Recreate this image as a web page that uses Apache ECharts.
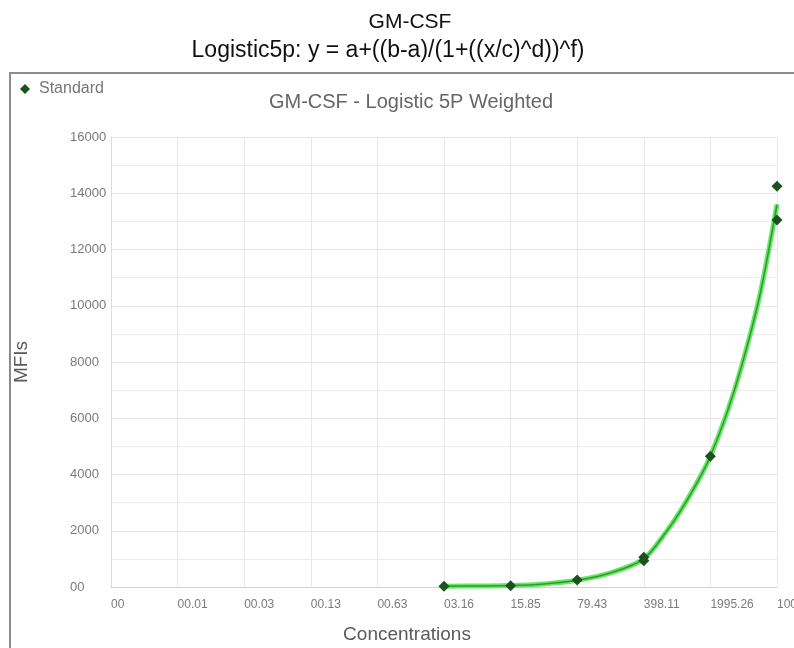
<!DOCTYPE html>
<html><head><meta charset="utf-8">
<script src="https://cdn.jsdelivr.net/npm/echarts@6/dist/echarts.min.js"></script>
<style>html,body{margin:0;padding:0;background:#fff}#c{width:794px;height:648px}</style>
</head><body><div id="c"></div>
<script>
const mainTitle = 'GM-CSF';
const subTitle = 'Logistic5p: y = a+((b-a)/(1+((x/c)^d))^f)';
const innerTitle = 'GM-CSF - Logistic 5P Weighted';
const seriesName = 'Standard';
const xAxisName = 'Concentrations';
const yAxisName = 'MFIs';

// x tick labels (log scale, steps of 10^0.7 from 10^-3 to 10^4)
const xTickLabels = ['00', '00.01', '00.03', '00.13', '00.63', '03.16', '15.85', '79.43', '398.11', '1995.26', '10000'];
const yTickLabels = ['00', '2000', '4000', '6000', '8000', '10000', '12000', '14000', '16000'];

// standard points
const stdConc = [3.16, 15.85, 79.43, 398.11, 398.11, 1995.26, 10000, 10000];
const stdMFI  = [30, 45, 250, 930, 1060, 4650, 14250, 13050];

// fitted curve
const fitConc = [3.16, 7.08, 15.85, 35.48, 79.43, 177.83, 398.11, 698, 1028, 1549, 1995.26, 2985, 4285, 6624, 10000];
const fitMFI  = [30, 36, 50, 110, 240, 500, 1000, 2000, 2850, 3900, 4650, 6200, 7900, 10400, 13600];

const LOG_MIN = -3, LOG_STEP = 0.7;
const toAxis = c => Math.log10(c) - LOG_MIN;

const FONT = '"Liberation Sans", Arial, sans-serif';
const chart = echarts.init(document.getElementById('c'), null, {renderer: 'canvas'});
chart.setOption({
  animation: false,
  backgroundColor: '#ffffff',
  graphic: [{
    type: 'rect', z: -1, silent: true,
    shape: {x: 10, y: 73, width: 820, height: 620},
    style: {fill: 'none', stroke: '#8c8c8c', lineWidth: 2}
  }],
  title: [
    {text: mainTitle, left: 405, top: 7, textAlign: 'center',
     textStyle: {fontFamily: FONT, fontSize: 21, fontWeight: 'normal', color: '#111'}},
    {text: subTitle, left: 383, top: 34, textAlign: 'center',
     textStyle: {fontFamily: FONT, fontSize: 23, fontWeight: 'normal', color: '#111'}},
    {text: innerTitle, left: 406, top: 87, textAlign: 'center',
     textStyle: {fontFamily: FONT, fontSize: 20, fontWeight: 'normal', color: '#666'}}
  ],
  legend: {
    data: [seriesName], left: 15, top: 76, icon: 'diamond',
    itemWidth: 10, itemHeight: 10,
    textStyle: {fontFamily: FONT, fontSize: 16, color: '#777', padding: [0, 0, 0, 4]}
  },
  grid: {left: 111, right: 17, top: 137, bottom: 61, containLabel: false, outerBoundsMode: 'none'},
  xAxis: {
    type: 'value', min: 0, max: 7, interval: LOG_STEP,
    name: xAxisName, nameLocation: 'middle', nameGap: 38,
    nameTextStyle: {fontFamily: FONT, fontSize: 19, color: '#5a5a5a', padding: [0, 74, 0, 0]},
    axisLine: {show: true, lineStyle: {color: '#d0d0d0', width: 1}},
    axisTick: {show: false},
    axisLabel: {
      fontFamily: FONT, fontSize: 12, color: '#7a7a7a', align: 'left', margin: 12,
      showMinLabel: true, showMaxLabel: true,
      formatter: v => xTickLabels[Math.round(v / LOG_STEP)] ?? ''
    },
    splitLine: {show: true, lineStyle: {color: '#e8e8e8', width: 1}}
  },
  yAxis: {
    type: 'value', min: 0, max: 16000, interval: 2000,
    name: yAxisName, nameLocation: 'middle', nameGap: 80, nameRotate: 90,
    nameTextStyle: {fontFamily: FONT, fontSize: 19, color: '#5a5a5a'},
    axisLine: {show: true, lineStyle: {color: '#dcdcdc', width: 1}},
    axisTick: {show: false},
    axisLabel: {
      fontFamily: FONT, fontSize: 13, color: '#7a7a7a', align: 'left', margin: 41,
      formatter: v => yTickLabels[Math.round(v / 2000)] ?? ''
    },
    minorTick: {show: false, splitNumber: 2},
    splitLine: {show: true, lineStyle: {color: '#e6e6e6', width: 1}},
    minorSplitLine: {show: true, lineStyle: {color: '#ececec', width: 1}}
  },
  series: [
    {
      name: 'fit-glow', type: 'line', silent: true, symbol: 'none',
      smooth: 0.3,
      data: fitConc.map((c, i) => [toAxis(c), fitMFI[i]]),
      lineStyle: {color: '#66e866', width: 5}, z: 2
    },
    {
      name: 'fit-core', type: 'line', silent: true, symbol: 'none',
      smooth: 0.3,
      data: fitConc.map((c, i) => [toAxis(c), fitMFI[i]]),
      lineStyle: {color: '#2f9a2f', width: 1.5}, z: 3
    },
    {
      name: seriesName, type: 'scatter', symbol: 'diamond', symbolSize: 11,
      data: stdConc.map((c, i) => [toAxis(c), stdMFI[i]]),
      itemStyle: {color: '#1b521d', opacity: 1}, z: 5
    }
  ]
});
</script>
</body></html>
